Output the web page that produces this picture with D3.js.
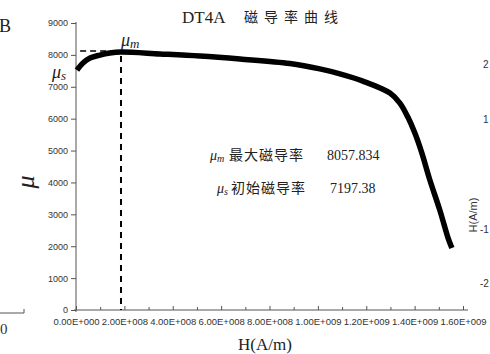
<!DOCTYPE html>
<html><head><meta charset="utf-8">
<script src="https://cdn.jsdelivr.net/npm/d3@7"></script>
<style>body{margin:0;background:#fff}svg{display:block}</style>
</head><body>
<svg id="c" width="490" height="354"></svg>
<script>
const hValues = [0.04e8,0.29e8,0.58e8,0.99e8,1.40e8,1.86e8,3.47e8,5.12e8,6.78e8,8.84e8,10.08e8,10.91e8,11.86e8,12.98e8,13.39e8,13.72e8,14.01e8,14.30e8,14.63e8,15.04e8,15.37e8,15.54e8];
const muValues = [7524,7743,7900,7994,8057,8088,8030,7963,7869,7728,7560,7405,7179,6803,6489,6051,5549,4922,4076,3135,2288,1944];
const yTicks = [0,1000,2000,3000,4000,5000,6000,7000,8000,9000];
const xTicks = [0,2e8,4e8,6e8,8e8,1e9,1.2e9,1.4e9,1.6e9];
const xMinor = [1e8,3e8,5e8,7e8,9e8,1.1e9,1.3e9,1.5e9];
const muMax = "8057.834", muInit = "7197.38";
const peakH = 1.86e8, peakMu = 8088;

const svg = d3.select("#c");
const x = d3.scaleLinear().domain([0,1.6e9]).range([76,463]);
const y = d3.scaleLinear().domain([0,9000]).range([310,23]);
const serif = "'Liberation Serif', 'Times New Roman', serif", sans = "'Liberation Sans', Arial, sans-serif", cjk = "'Noto Sans CJK SC', sans-serif";

function fmt(v){
  if (v===0) return "0.00E+000";
  const e = Math.floor(Math.log10(v));
  const m = (v/Math.pow(10,e)).toFixed(2);
  return m + "E+" + String(e).padStart(3,"0");
}

// y axis
const ya = svg.append("g").attr("transform","translate(76,0)")
  .call(d3.axisLeft(y).tickValues(yTicks).tickSize(5).tickPadding(3).tickFormat(d3.format("d")));
ya.select(".domain").attr("stroke","#555").attr("d","M0,22V312");
ya.selectAll(".tick line").attr("stroke","#555");
ya.selectAll("text").attr("font-family",sans).attr("font-size",9).attr("fill","#333");

// x axis
const xa = svg.append("g").attr("transform","translate(0,310)")
  .call(d3.axisBottom(x).tickValues(xTicks).tickSize(-4).tickPadding(8).tickFormat(fmt));
xa.select(".domain").attr("stroke","#555").attr("d","M74,0H468");
xa.selectAll(".tick line").attr("stroke","#555");
xa.selectAll("text").attr("font-family",sans).attr("font-size",9.5).attr("fill","#333");
const xm = svg.append("g").attr("transform","translate(0,310)")
  .call(d3.axisBottom(x).tickValues(xMinor).tickSize(-3).tickFormat(""));
xm.select(".domain").remove();
xm.selectAll(".tick line").attr("stroke","#555");

// dashed guide lines
svg.append("line").attr("x1",x(peakH)).attr("x2",x(peakH)).attr("y1",y(peakMu)+4).attr("y2",y(0))
  .attr("stroke","#000").attr("stroke-width",2).attr("stroke-dasharray","6,5");
svg.append("line").attr("x1",x(0.17e8)).attr("x2",x(peakH)).attr("y1",y(peakMu)-1).attr("y2",y(peakMu)-1)
  .attr("stroke","#000").attr("stroke-width",1.5).attr("stroke-dasharray","6,4");

// curve
const line = d3.line().x((d,i)=>x(hValues[i])).y(d=>y(d)).curve(d3.curveCatmullRom.alpha(0.5));
svg.append("path").datum(muValues).attr("d",line).attr("fill","none")
  .attr("stroke","#000").attr("stroke-width",5.5).attr("stroke-linejoin","round");

// title
svg.append("text").attr("x",182).attr("y",23).attr("font-family",serif).attr("font-size",17).attr("fill","#222").text("DT4A");
svg.append("text").attr("x",244).attr("y",22).attr("font-family",cjk).attr("font-size",14).attr("letter-spacing",6).attr("fill","#222").text("磁导率曲线");

// mu labels
function muLabel(xp,yp,sub,size){
  const g = svg.append("text").attr("x",xp).attr("y",yp).attr("font-family",serif).attr("font-style","italic").attr("font-size",size).attr("fill","#222");
  g.append("tspan").text("μ");
  g.append("tspan").attr("font-size",size*0.72).attr("dy",size*0.12).text(sub);
  return g;
}
muLabel(121,46,"m",18);
muLabel(52,78,"s",18);

// annotations
muLabel(210,160,"m",14);
svg.append("text").attr("x",229).attr("y",160).attr("font-family",cjk).attr("font-size",14).attr("letter-spacing",1).attr("fill","#222").text("最大磁导率");
svg.append("text").attr("x",327).attr("y",160).attr("font-family",serif).attr("font-size",14).attr("fill","#222").text(muMax);
muLabel(217,193,"s",14);
svg.append("text").attr("x",231).attr("y",193).attr("font-family",cjk).attr("font-size",14).attr("letter-spacing",1).attr("fill","#222").text("初始磁导率");
svg.append("text").attr("x",330).attr("y",193).attr("font-family",serif).attr("font-size",14).attr("fill","#222").text(muInit);

// axis titles
svg.append("text").attr("x",265).attr("y",350).attr("text-anchor","middle").attr("font-family",serif).attr("font-size",17).attr("fill","#222").text("H(A/m)");
svg.append("text").attr("transform","translate(34,182) rotate(-90)").attr("text-anchor","middle")
  .attr("font-family",serif).attr("font-style","italic").attr("font-size",26).attr("fill","#222").text("μ");

// cropped neighbour-chart fragments
svg.append("text").attr("x",-1).attr("y",32).attr("font-family",serif).attr("font-size",18).attr("fill","#222").text("B");
svg.append("path").attr("d","M0,313H24V309").attr("fill","none").attr("stroke","#555");
svg.append("text").attr("x",0).attr("y",334).attr("font-family",serif).attr("font-size",15).attr("fill","#333").text("0");
const rt = [["2",68],["1",123],["-1",233],["-2",287]];
svg.selectAll(".rt").data(rt).enter().append("text").attr("x",d=>d[0].length>1?480:483).attr("y",d=>d[1])
  .attr("font-family",sans).attr("font-size",10).attr("fill","#333").text(d=>d[0]);
svg.append("text").attr("transform","translate(477,215) rotate(-90)").attr("text-anchor","middle")
  .attr("font-family",sans).attr("font-size",11).attr("fill","#333").text("H(A/m)");
</script>
</body></html>
